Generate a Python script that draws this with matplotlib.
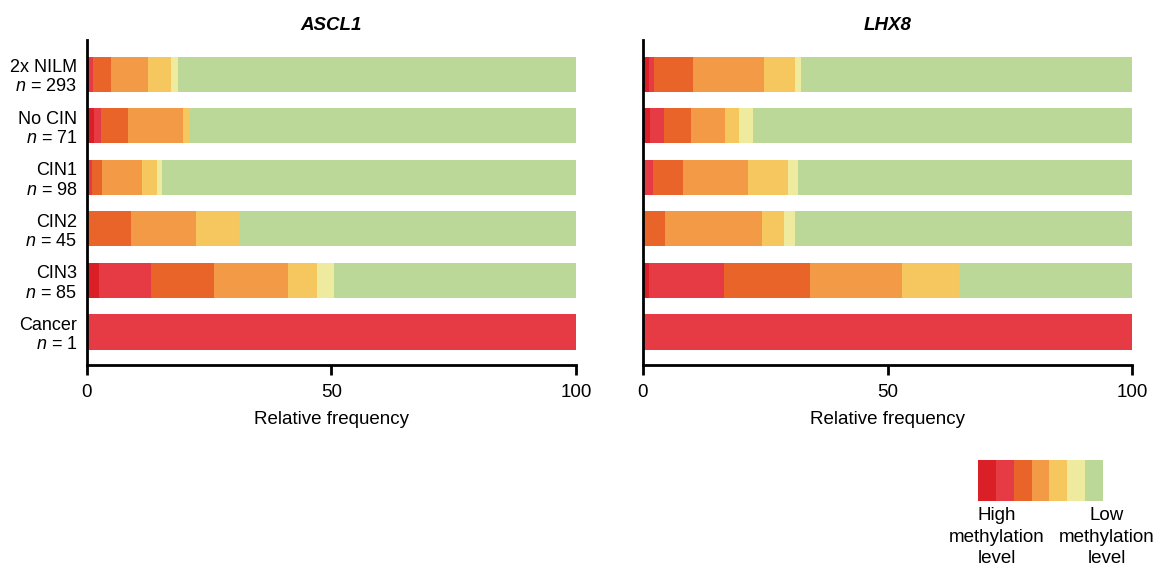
import matplotlib
matplotlib.use("Agg")
import matplotlib.pyplot as plt
import numpy as np

plt.rcParams['font.family'] = ['Liberation Sans', 'DejaVu Sans']
plt.rcParams['mathtext.fontset'] = 'custom'
plt.rcParams['mathtext.rm'] = 'Liberation Sans'
plt.rcParams['mathtext.it'] = 'Liberation Sans:italic'

# Groups (top to bottom) and sample sizes
groups = ["2x NILM", "No CIN", "CIN1", "CIN2", "CIN3", "Cancer"]
sizes = [293, 71, 98, 45, 85, 1]

# Methylation-level classes, high -> low
level_colors = ["#DA1F26", "#E63B44", "#E96428", "#F39A46", "#F7C75F", "#EEEB9F", "#BCD899"]

# Relative frequency (%) per group, columns follow level_colors
ascl1 = [
    [0.5, 0.7, 3.7, 7.6, 4.7, 1.5, 81.3],
    [1.4, 1.4, 5.6, 11.3, 1.4, 0.0, 78.9],
    [0.0, 1.0, 2.0, 8.2, 3.1, 1.0, 84.7],
    [0.0, 0.0, 8.9, 13.3, 8.9, 0.0, 68.9],
    [2.4, 10.6, 12.9, 15.3, 5.9, 3.5, 49.4],
    [0.0, 100.0, 0.0, 0.0, 0.0, 0.0, 0.0],
]
lhx8 = [
    [1.3, 1.0, 7.9, 14.6, 6.2, 1.4, 67.6],
    [1.4, 2.8, 5.6, 7.0, 2.8, 2.8, 77.6],
    [0.0, 2.0, 6.1, 13.3, 8.2, 2.0, 68.4],
    [0.0, 0.0, 4.4, 20.0, 4.4, 2.2, 69.0],
    [1.2, 15.3, 17.6, 18.8, 11.8, 0.0, 35.3],
    [0.0, 100.0, 0.0, 0.0, 0.0, 0.0, 0.0],
]

W, H = 1155, 567
fig = plt.figure(figsize=(W / 100, H / 100), dpi=100)


def px_axes(x0, y0, x1, y1):
    return fig.add_axes([x0 / W, 1 - y1 / H, (x1 - x0) / W, (y1 - y0) / H])


def draw_panel(ax, data, title, show_labels):
    arr = np.array(data)
    ypos = np.arange(len(groups))
    left = np.zeros(len(groups))
    for k, col in enumerate(level_colors):
        ax.barh(ypos, arr[:, k], left=left, height=0.68, color=col,
                edgecolor='none', linewidth=0)
        left += arr[:, k]
    ax.set_xlim(0, 100)
    ax.set_ylim(len(groups) - 0.36, -0.66)
    ax.set_xticks([0, 50, 100])
    ax.tick_params(axis='x', length=7, width=2, labelsize=13.5, pad=7, colors='black')
    ax.tick_params(axis='y', length=0, pad=7, labelsize=13)
    ax.set_yticks(ypos)
    if show_labels:
        ax.set_yticklabels([f"{g}\n$n$ = {n}" for g, n in zip(groups, sizes)],
                           ha='right', linespacing=1.18)
    else:
        ax.set_yticklabels([])
    for s in ['top', 'right']:
        ax.spines[s].set_visible(False)
    for s in ['left', 'bottom']:
        ax.spines[s].set_linewidth(2)
    ax.set_xlabel("Relative frequency", fontsize=13.5, labelpad=7)
    ax.set_title(title, fontsize=13.5, fontweight='bold', fontstyle='italic', pad=7)


ax1 = px_axes(87, 40, 576, 365)
draw_panel(ax1, ascl1, "ASCL1", True)
ax2 = px_axes(643, 40, 1132, 365)
draw_panel(ax2, lhx8, "LHX8", False)

# Colour key
axk = px_axes(978, 460, 1103, 501)
for i, col in enumerate(level_colors):
    axk.bar(i, 1, width=1, color=col, edgecolor='none', align='edge')
axk.set_xlim(0, len(level_colors))
axk.set_ylim(0, 1)
axk.axis('off')

fig.text(997 / W, 1 - 507 / H, "High\nmethylation\nlevel", ha='center', va='top',
         fontsize=13.5, linespacing=1.36)
fig.text(1107 / W, 1 - 507 / H, "Low\nmethylation\nlevel", ha='center', va='top',
         fontsize=13.5, linespacing=1.36)

fig.savefig("out.png", dpi=100, facecolor='white')
